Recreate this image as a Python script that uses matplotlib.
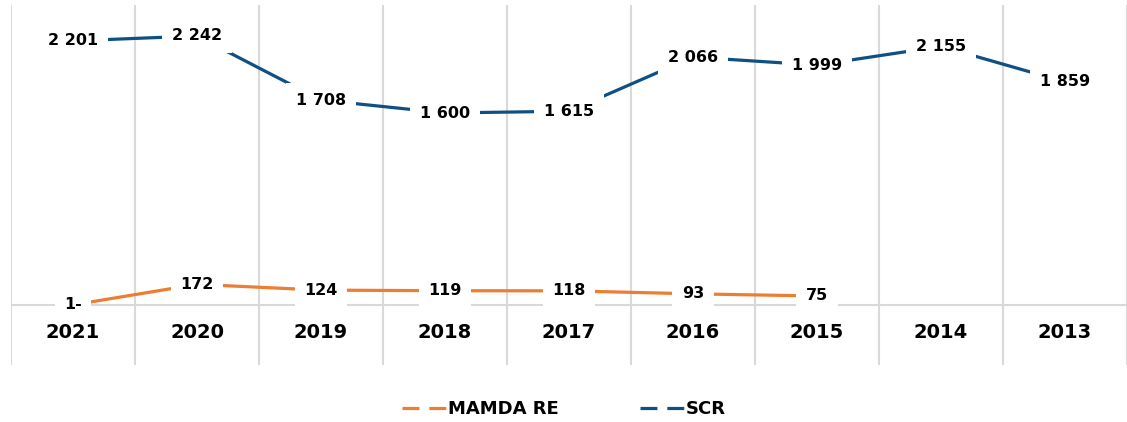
import matplotlib
matplotlib.use("Agg")
import matplotlib.pyplot as plt
from matplotlib.lines import Line2D

years = ["2021", "2020", "2019", "2018", "2017", "2016", "2015", "2014", "2013"]
scr = [2201, 2242, 1708, 1600, 1615, 2066, 1999, 2155, 1859]
mamda = [1, 172, 124, 119, 118, 93, 75]
mamda_labels = ["1-", "172", "124", "119", "118", "93", "75"]

def fmt(v):
    return f"{v:,}".replace(",", " ")

BLUE = "#0E4F84"
ORANGE = "#ED7D31"
GRID = "#D9D9D9"

plt.rcParams['font.family'] = ['DejaVu Sans']
W, H = 1127, 422
fig = plt.figure(figsize=(W / 100, H / 100), dpi=100)
ax = fig.add_axes([11 / W, (H - 365) / H, 1116 / W, 360 / H])
ax.set_xlim(-0.5, len(years) - 0.5)
ax.set_ylim(-500, 2500)
for s in ax.spines.values():
    s.set_visible(False)
ax.set_xticks([])
ax.set_yticks([])

for i in range(len(years) + 1):
    ax.axvline(i - 0.5, color=GRID, lw=1.5, zorder=0)
ax.axhline(0, color=GRID, lw=1.5, zorder=0)

x_scr = list(range(len(scr)))
x_m = list(range(len(mamda)))
ax.plot(x_scr, scr, color=BLUE, lw=2.3, solid_capstyle='butt', zorder=2)
ax.plot(x_m, mamda, color=ORANGE, lw=2.3, solid_capstyle='butt', zorder=2)

bbox = dict(boxstyle="square,pad=0.6", facecolor="white", edgecolor="none")
for x, v in zip(x_scr, scr):
    ax.text(x, v, fmt(v), ha="center", va="center", fontsize=11.5,
            fontweight="bold", color="black", bbox=bbox, zorder=3)
for x, v, t in zip(x_m, mamda, mamda_labels):
    ax.text(x, v, t, ha="center", va="center", fontsize=11.5,
            fontweight="bold", color="black", bbox=bbox, zorder=3)

for i, y in enumerate(years):
    ax.text(i, -233, y, ha="center", va="center", fontsize=14,
            fontweight="bold", color="black")

handles = [Line2D([0], [0], color=ORANGE, lw=2.3, ls=(0, (5.3, 3.1))),
           Line2D([0], [0], color=BLUE, lw=2.3, ls=(0, (5.3, 3.1)))]
fig.legend(handles, ["MAMDA RE", "SCR"], loc="center", bbox_to_anchor=(0.5, 1 - 409 / H),
           ncol=2, frameon=False, prop=dict(weight="bold", size=13),
           handlelength=2.44, handletextpad=0.1, columnspacing=4.5)

fig.savefig("out.png", dpi=100)
